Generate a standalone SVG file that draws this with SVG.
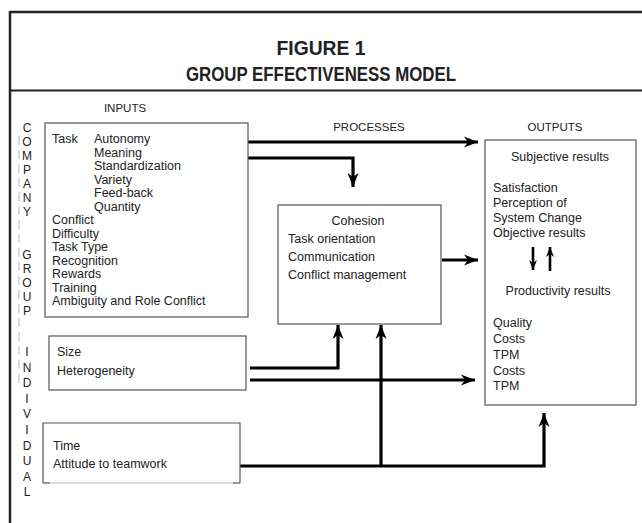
<svg xmlns="http://www.w3.org/2000/svg" width="642" height="523" viewBox="0 0 642 523">
<style>
.t{font-family:"Liberation Sans",Arial,sans-serif;font-size:12.5px;fill:#222}
.lab{font-family:"Liberation Sans",Arial,sans-serif;font-size:11.5px;fill:#222;text-anchor:middle}
.vl{font-family:"Liberation Sans",Arial,sans-serif;font-size:12px;fill:#222;text-anchor:middle}
.ttl{font-family:"Liberation Sans",Arial,sans-serif;font-size:19.5px;font-weight:bold;fill:#222;text-anchor:middle}
.box{fill:#fff;stroke:#555;stroke-width:1.2}
.conn{fill:none;stroke:#000;stroke-width:3.2}
.sm{fill:none;stroke:#000;stroke-width:2.6}
</style>
<defs>
<marker id="ah" markerUnits="userSpaceOnUse" viewBox="-15 -7 16 14" refX="0" refY="0" markerWidth="16" markerHeight="14" orient="auto">
<path d="M0,0 L-14,-5.5 L-10,0 L-14,5.5 Z" fill="#000"/>
</marker>
<marker id="ahs" markerUnits="userSpaceOnUse" viewBox="-11 -5 12 10" refX="0" refY="0" markerWidth="12" markerHeight="10" orient="auto">
<path d="M0,0 L-10,-4 L-7,0 L-10,4 Z" fill="#000"/>
</marker>
</defs>
<rect width="642" height="523" fill="#fff"/>
<g id="frame">
<line x1="10" y1="12" x2="642" y2="12" stroke="#222" stroke-width="2.5"/>
<line x1="10" y1="11" x2="10" y2="523" stroke="#222" stroke-width="2.5"/>
<line x1="10" y1="90.5" x2="642" y2="90.5" stroke="#222" stroke-width="2"/>
<line x1="19" y1="136" x2="19" y2="388" stroke="#b5b5b5" stroke-width="1" stroke-dasharray="9 5"/>
</g>
<g id="title">
<text class="ttl" x="321" y="55" textLength="89" lengthAdjust="spacingAndGlyphs">FIGURE 1</text>
<text class="ttl" x="321" y="81" textLength="270" lengthAdjust="spacingAndGlyphs">GROUP EFFECTIVENESS MODEL</text>
</g>
<g id="labels">
<text class="lab" x="125" y="112">INPUTS</text>
<text class="lab" x="369" y="131">PROCESSES</text>
<text class="lab" x="555" y="131">OUTPUTS</text>
</g>
<g id="side-letters">
<text class="vl" x="27" y="132">C</text>
<text class="vl" x="27" y="146">O</text>
<text class="vl" x="27" y="160">M</text>
<text class="vl" x="27" y="174">P</text>
<text class="vl" x="27" y="188">A</text>
<text class="vl" x="27" y="202">N</text>
<text class="vl" x="27" y="216">Y</text>
<text class="vl" x="27" y="259">G</text>
<text class="vl" x="27" y="273">R</text>
<text class="vl" x="27" y="287">O</text>
<text class="vl" x="27" y="301">U</text>
<text class="vl" x="27" y="315">P</text>
<text class="vl" x="27" y="356">I</text>
<text class="vl" x="27" y="371.6">N</text>
<text class="vl" x="27" y="387.2">D</text>
<text class="vl" x="27" y="402.8">I</text>
<text class="vl" x="27" y="418.4">V</text>
<text class="vl" x="27" y="434">I</text>
<text class="vl" x="27" y="449.6">D</text>
<text class="vl" x="27" y="465.2">U</text>
<text class="vl" x="27" y="480.8">A</text>
<text class="vl" x="27" y="496.4">L</text>
</g>
<g id="connectors">
<path class="conn" d="M248,142 H478" marker-end="url(#ah)"/>
<path class="conn" d="M248,158 H353 V187" marker-end="url(#ah)"/>
<path class="conn" d="M442,260 H478" marker-end="url(#ah)"/>
<path class="conn" d="M250,368 H338 V325" marker-end="url(#ah)"/>
<path class="conn" d="M250,380 H475" marker-end="url(#ah)"/>
<path class="conn" d="M240,466 H544 V413" marker-end="url(#ah)"/>
<path class="conn" d="M381,466 V325" marker-end="url(#ah)"/>
</g>
<g id="inputs">
<rect class="box" x="45" y="123" width="203" height="194"/>
<text class="t" x="52" y="143">Task</text>
<text class="t" x="94" y="143">Autonomy</text>
<text class="t" x="94" y="156.5">Meaning</text>
<text class="t" x="94" y="170">Standardization</text>
<text class="t" x="94" y="183.5">Variety</text>
<text class="t" x="94" y="197">Feed-back</text>
<text class="t" x="94" y="210.5">Quantity</text>
<text class="t" x="52" y="224">Conflict</text>
<text class="t" x="52" y="237.5">Difficulty</text>
<text class="t" x="52" y="251">Task Type</text>
<text class="t" x="52" y="264.5">Recognition</text>
<text class="t" x="52" y="278">Rewards</text>
<text class="t" x="52" y="291.5">Training</text>
<text class="t" x="52" y="305">Ambiguity and Role Conflict</text>
</g>
<g id="processes">
<rect class="box" x="278" y="205" width="163" height="119"/>
<text class="t" x="358" y="225" text-anchor="middle">Cohesion</text>
<text class="t" x="288" y="243">Task orientation</text>
<text class="t" x="288" y="261">Communication</text>
<text class="t" x="288" y="279">Conflict management</text>
</g>
<g id="outputs">
<rect class="box" x="485" y="140" width="151" height="265"/>
<text class="t" x="560" y="161" text-anchor="middle">Subjective results</text>
<text class="t" x="493" y="192">Satisfaction</text>
<text class="t" x="493" y="207">Perception of</text>
<text class="t" x="493" y="222">System Change</text>
<text class="t" x="493" y="237">Objective results</text>
<path class="sm" d="M533,247 V270" marker-end="url(#ahs)"/>
<path class="sm" d="M550,271 V247" marker-end="url(#ahs)"/>
<text class="t" x="558" y="295" text-anchor="middle">Productivity results</text>
<text class="t" x="493" y="327">Quality</text>
<text class="t" x="493" y="343">Costs</text>
<text class="t" x="493" y="359">TPM</text>
<text class="t" x="493" y="375">Costs</text>
<text class="t" x="493" y="390">TPM</text>
</g>
<g id="group-inputs">
<rect class="box" x="49" y="336" width="197" height="54"/>
<text class="t" x="57" y="356">Size</text>
<text class="t" x="57" y="375">Heterogeneity</text>
</g>
<g id="individual-inputs">
<rect x="43" y="423" width="197" height="60" fill="#fff" stroke="none"/>
<path d="M43,483 V423 H240 V483" fill="none" stroke="#555" stroke-width="1.2"/>
<line x1="43" y1="483" x2="240" y2="483" stroke="#bbb" stroke-width="1"/>
<path d="M43,483 H50 M233,483 H240" stroke="#555" stroke-width="1.2"/>
<text class="t" x="53" y="450">Time</text>
<text class="t" x="53" y="468">Attitude to teamwork</text>
</g>
</svg>
